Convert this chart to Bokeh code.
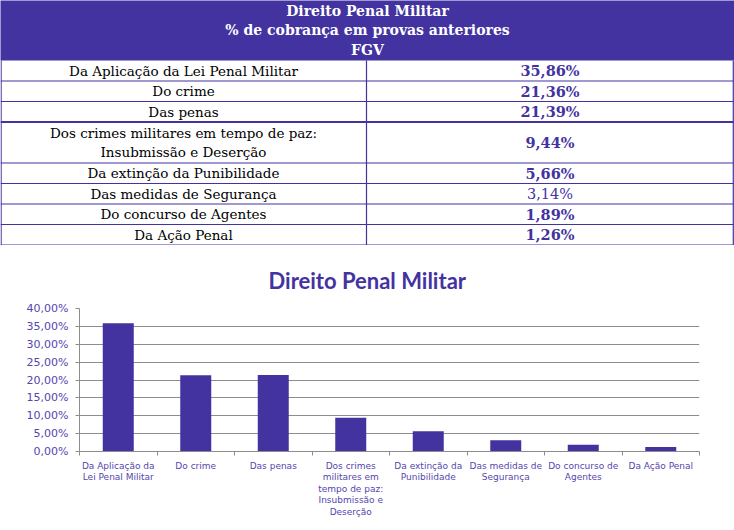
from bokeh.plotting import figure
from bokeh.models import Range1d, FixedTicker, CustomJSTickFormatter
from bokeh.core.properties import value
from bokeh.embed import file_html
from bokeh.resources import INLINE

# ---------------- data ----------------
title_lines = ["Direito Penal Militar", "% de cobrança em provas anteriores", "FGV"]
chart_title = "Direito Penal Militar"
table_labels = [
    "Da Aplicação da Lei Penal Militar",
    "Do crime",
    "Das penas",
    "Dos crimes militares em tempo de paz:\nInsubmissão e Deserção",
    "Da extinção da Punibilidade",
    "Das medidas de Segurança",
    "Do concurso de Agentes",
    "Da Ação Penal",
]
axis_labels = [
    "Da Aplicação da\nLei Penal Militar",
    "Do crime",
    "Das penas",
    "Dos crimes\nmilitares em\ntempo de paz:\nInsubmissão e\nDeserção",
    "Da extinção da\nPunibilidade",
    "Das medidas de\nSegurança",
    "Do concurso de\nAgentes",
    "Da Ação Penal",
]
values = [35.86, 21.36, 21.39, 9.44, 5.66, 3.14, 1.89, 1.26]
value_bold = [True, True, True, True, True, False, True, True]
y_ticks = [0, 5, 10, 15, 20, 25, 30, 35, 40]

# ---------------- style ----------------
PURPLE = "#4333A1"
LABEL = "#5546AE"
GRID = "#8C8C8C"
W = 734
HEADER_H = 60
LINE_H = 20.5
COL_SPLIT = 366
TABLE_H = 245
CHART_H = 284


def pct(v):
    return ("%.2f" % v).replace(".", ",") + "%"


# ---------------- table ----------------
nlines = [lbl.count("\n") + 1 for lbl in table_labels]
bounds = [HEADER_H]
for k in nlines:
    bounds.append(bounds[-1] + LINE_H * k)
bottom = bounds[-1]

t = figure(width=W, height=TABLE_H, x_range=Range1d(0, W),
           y_range=Range1d(TABLE_H, 0), output_backend="svg",
           toolbar_location=None, min_border=0,
           x_axis_location=None, y_axis_location=None)
t.grid.visible = False
t.outline_line_color = None

t.quad(left=-1, right=W + 1, top=-1, bottom=HEADER_H, fill_color=PURPLE, line_color=None)
t.text(x=[W / 2], y=[HEADER_H / 2], text=["\n".join(title_lines)],
       text_align="center", text_baseline="middle",
       text_font=value("DejaVu Serif"), text_font_style="bold",
       text_font_size="14px", text_color="white", text_line_height=1.22)

mids = [(bounds[i] + bounds[i + 1]) / 2 for i in range(len(table_labels))]
t.text(x=[COL_SPLIT / 2] * len(mids), y=mids, text=table_labels,
       text_align="center", text_baseline="middle",
       text_font=value("DejaVu Serif"), text_font_size="13.5px",
       text_color="black", text_line_height=1.2)
right_x = (COL_SPLIT + W - 1) / 2
for i, v in enumerate(values):
    t.text(x=[right_x], y=[mids[i]], text=[pct(v)],
           text_align="center", text_baseline="middle",
           text_font=value("DejaVu Serif"),
           text_font_style="bold" if value_bold[i] else "normal",
           text_font_size="14.5px", text_color=PURPLE)

hb = bounds[1:]
t.segment(x0=[0] * len(hb), x1=[W - 1] * len(hb), y0=hb, y1=hb,
          line_color=PURPLE, line_width=[2 if i == 2 else 1.2 for i in range(len(hb))])
vx = [0.6, COL_SPLIT, W - 1.2]
t.segment(x0=vx, x1=vx, y0=[HEADER_H] * 3, y1=[bottom] * 3, line_color=PURPLE, line_width=1.2)

# ---------------- chart ----------------
n = len(values)
c = figure(width=W, height=CHART_H, x_range=Range1d(0, n), y_range=Range1d(0, 40),
           output_backend="svg", toolbar_location=None, title=chart_title,
           min_border_left=79, min_border_right=35, min_border_top=63,
           min_border_bottom=78)
c.outline_line_color = None
c.title.text_font = "Lato"
c.title.text_font_style = "bold"
c.title.text_font_size = "22px"
c.title.text_color = PURPLE
c.title.align = "left"
c.title.vertical_align = "bottom"
c.title.offset = 189
c.title.standoff = 30

c.vbar(x=[i + 0.5 for i in range(n)], top=values, width=0.4,
       fill_color=PURPLE, line_color=None)

c.xgrid.visible = False
c.ygrid.grid_line_color = GRID
c.ygrid.grid_line_width = 1
c.ygrid.ticker = FixedTicker(ticks=y_ticks)

c.yaxis.ticker = FixedTicker(ticks=y_ticks)
c.yaxis.formatter = CustomJSTickFormatter(code="return tick.toFixed(2).replace('.', ',') + '%';")
c.yaxis.axis_line_color = GRID
c.yaxis.major_tick_line_color = GRID
c.yaxis.major_tick_out = 4
c.yaxis.major_tick_in = 0
c.yaxis.minor_tick_line_color = None
c.yaxis.major_label_text_font = "DejaVu Sans"
c.yaxis.major_label_text_font_size = "11px"
c.yaxis.major_label_text_color = LABEL
c.yaxis.major_label_standoff = 7

c.xaxis.ticker = FixedTicker(ticks=[i + 0.5 for i in range(n)],
                             minor_ticks=list(range(n + 1)))
c.xaxis.formatter = CustomJSTickFormatter(args=dict(labels=axis_labels),
                                          code="return labels[Math.floor(tick)];")
c.xaxis.axis_line_color = GRID
c.xaxis.major_tick_out = 0
c.xaxis.major_tick_in = 0
c.xaxis.minor_tick_line_color = GRID
c.xaxis.minor_tick_out = 4
c.xaxis.minor_tick_in = 0
c.xaxis.major_label_text_font = "DejaVu Sans"
c.xaxis.major_label_text_font_size = "9px"
c.xaxis.major_label_text_color = LABEL
c.xaxis.major_label_standoff = 5
c.xaxis.major_label_text_line_height = 1.15

open("out.html", "w").write(file_html([t, c], INLINE))
